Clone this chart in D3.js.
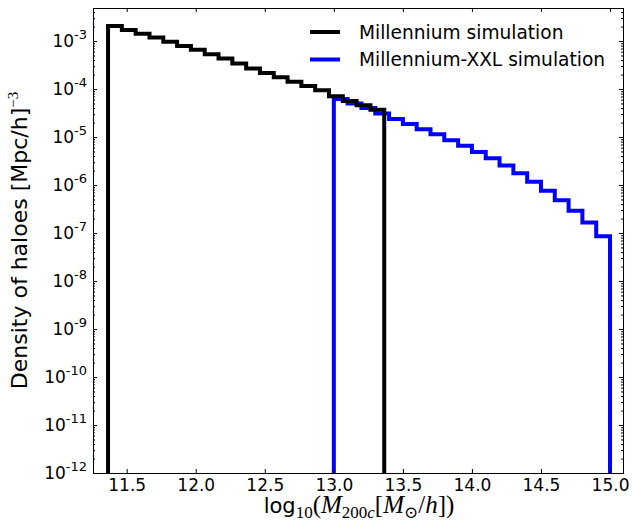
<!DOCTYPE html>
<html>
<head>
<meta charset="utf-8">
<script src="https://cdn.jsdelivr.net/npm/d3@7"></script>
<style>
  body { margin: 0; background: #fff; }
  text { font-family: "DejaVu Sans", sans-serif; fill: #000; }
  .math { font-family: "Liberation Serif", "DejaVu Serif", serif; }
</style>
</head>
<body>
<div id="chart"></div>
<script>
// histogram bin edges (log10 mass) and densities
var millEdges = [11.365, 11.465, 11.565, 11.665, 11.765, 11.865, 11.965, 12.065, 12.165, 12.265, 12.365,
                 12.465, 12.565, 12.665, 12.765, 12.865, 12.965, 13.065, 13.165, 13.265, 13.365];
var millDensity = [2.06e-3, 1.69e-3, 1.42e-3, 1.19e-3, 9.7e-4, 7.9e-4, 6.6e-4, 5.3e-4, 4.3e-4, 3.4e-4,
                   2.67e-4, 2.15e-4, 1.75e-4, 1.42e-4, 1.15e-4, 9.4e-5, 7.1e-5, 5.6e-5, 4.6e-5, 3.7e-5];

var xxlEdges = [13.0, 13.1, 13.2, 13.3, 13.4, 13.5, 13.6, 13.7, 13.8, 13.9, 14.0,
                14.1, 14.2, 14.3, 14.4, 14.5, 14.6, 14.7, 14.8, 14.9, 15.0];
var xxlDensity = [6.2e-5, 5.0e-5, 4.0e-5, 3.1e-5, 2.37e-5, 1.86e-5, 1.46e-5, 1.14e-5, 8.6e-6, 6.6e-6,
                  4.9e-6, 3.6e-6, 2.56e-6, 1.75e-6, 1.17e-6, 7.6e-7, 4.8e-7, 2.9e-7, 1.66e-7, 8.6e-8];

var xTicks = [11.5, 12.0, 12.5, 13.0, 13.5, 14.0, 14.5, 15.0];
var yExponents = [-3, -4, -5, -6, -7, -8, -9, -10, -11, -12];
var legendLabels = ["Millennium simulation", "Millennium-XXL simulation"];

var svgWidth = 632;
var svgHeight = 522;
var margin = { top: 8, right: 9, bottom: 49, left: 93 };
var width = svgWidth - margin.left - margin.right;
var height = svgHeight - margin.top - margin.bottom;

var svg = d3.select("#chart")
  .append("svg")
  .attr("width", svgWidth)
  .attr("height", svgHeight);

var chartGroup = svg.append("g")
  .attr("transform", `translate(${margin.left}, ${margin.top})`);

var xScale = d3.scaleLinear()
  .domain([11.256, 15.094])
  .range([0, width]);

var yScale = d3.scaleLog()
  .domain([1e-12, Math.pow(10, -2.312)])
  .range([height, 0]);

chartGroup.append("clipPath")
  .attr("id", "plotclip")
  .append("rect")
  .attr("width", width)
  .attr("height", height);

// step outline like matplotlib histtype='step'
function stepPath(edges, vals) {
  var p = d3.path();
  p.moveTo(xScale(edges[0]), height);
  vals.forEach((v, i) => {
    p.lineTo(xScale(edges[i]), yScale(v));
    p.lineTo(xScale(edges[i + 1]), yScale(v));
  });
  p.lineTo(xScale(edges[edges.length - 1]), height);
  return p.toString();
}

var lines = chartGroup.append("g").attr("clip-path", "url(#plotclip)");

lines.append("path")
  .attr("d", stepPath(xxlEdges, xxlDensity))
  .attr("fill", "none")
  .attr("stroke", "#0000ff")
  .attr("stroke-width", 4)
  .attr("stroke-linejoin", "miter");

lines.append("path")
  .attr("d", stepPath(millEdges, millDensity))
  .attr("fill", "none")
  .attr("stroke", "#000")
  .attr("stroke-width", 4)
  .attr("stroke-linejoin", "miter");

// axes: ticks point inward on all four sides
var bottomAxis = d3.axisBottom(xScale).tickValues(xTicks).tickFormat(d3.format(".1f"))
  .tickSizeInner(-4).tickSizeOuter(0).tickPadding(6);
var topAxis = d3.axisTop(xScale).tickValues(xTicks).tickFormat("").tickSizeInner(-4).tickSizeOuter(0);

var majorY = yExponents.map(e => Math.pow(10, e));
var minorY = [];
yExponents.forEach(e => {
  for (var k = 2; k <= 9; k++) minorY.push(k * Math.pow(10, e));
});
minorY = minorY.filter(v => v <= yScale.domain()[1]);

var leftAxis = d3.axisLeft(yScale).tickValues(majorY).tickFormat("").tickSizeInner(-4).tickSizeOuter(0);
var rightAxis = d3.axisRight(yScale).tickValues(majorY).tickFormat("").tickSizeInner(-4).tickSizeOuter(0);
var leftMinor = d3.axisLeft(yScale).tickValues(minorY).tickFormat("").tickSizeInner(-2).tickSizeOuter(0);
var rightMinor = d3.axisRight(yScale).tickValues(minorY).tickFormat("").tickSizeInner(-2).tickSizeOuter(0);

var gx = chartGroup.append("g").attr("transform", `translate(0, ${height})`).call(bottomAxis);
chartGroup.append("g").call(topAxis);
var gy = chartGroup.append("g").call(leftAxis);
chartGroup.append("g").call(leftMinor);
chartGroup.append("g").attr("transform", `translate(${width}, 0)`).call(rightAxis);
chartGroup.append("g").attr("transform", `translate(${width}, 0)`).call(rightMinor);

chartGroup.selectAll(".domain").remove();
chartGroup.selectAll(".tick line").attr("stroke", "#000");

gx.selectAll("text")
  .style("font-family", "DejaVu Sans")
  .style("font-size", "17px");

// y tick labels 10^n
gy.selectAll(".tick").each(function (d) {
  var t = d3.select(this).append("text")
    .attr("x", -6)
    .attr("dy", "0.32em")
    .attr("text-anchor", "end")
    .style("font-size", "17px");
  t.append("tspan").text("10");
  t.append("tspan").attr("dy", "-0.6em").style("font-size", "13px")
    .text(Math.round(Math.log10(d)));
});

// frame
chartGroup.append("rect")
  .attr("x", 0.5).attr("y", 0.5)
  .attr("width", width).attr("height", height)
  .attr("fill", "none")
  .attr("stroke", "#000")
  .attr("stroke-width", 1);

// legend
var legendColors = ["#000", "#0000ff"];
var legend = chartGroup.append("g")
  .attr("transform", `translate(${310 - margin.left}, ${32 - margin.top})`);
legendLabels.forEach((lab, i) => {
  legend.append("line")
    .attr("x1", 0).attr("x2", 30)
    .attr("y1", i * 27.5).attr("y2", i * 27.5)
    .attr("stroke", legendColors[i])
    .attr("stroke-width", 4);
  legend.append("text")
    .attr("x", 49)
    .attr("y", i * 27.5)
    .attr("dy", "0.36em")
    .style("font-size", "18.6px")
    .text(lab);
});

// axis labels
var yLabel = svg.append("text")
  .attr("transform", `translate(27, ${margin.top + height / 2}) rotate(-90)`)
  .attr("text-anchor", "middle")
  .style("font-size", "22px");
yLabel.append("tspan").text("Density of haloes [Mpc/h]");
yLabel.append("tspan").attr("class", "math").attr("dy", "-0.6em").style("font-size", "15px").text("\u22123");

var xLabel = svg.append("text")
  .attr("x", 359)
  .attr("y", 513)
  .attr("text-anchor", "middle")
  .style("font-size", "21px");
xLabel.append("tspan").text("log");
xLabel.append("tspan").attr("class", "math").attr("dy", 5).style("font-size", "17px").text("10");
xLabel.append("tspan").attr("class", "math").attr("dy", -5).style("font-size", "25px").text("(");
xLabel.append("tspan").attr("class", "math").style("font-size", "25px").style("font-style", "italic").text("M");
xLabel.append("tspan").attr("class", "math").attr("dy", 5).style("font-size", "17px").text("200");
xLabel.append("tspan").attr("class", "math").style("font-size", "17px").style("font-style", "italic").text("c");
xLabel.append("tspan").attr("class", "math").attr("dy", -5).style("font-size", "25px").text("[");
xLabel.append("tspan").attr("class", "math").style("font-size", "25px").style("font-style", "italic").text("M");
xLabel.append("tspan").attr("class", "math").attr("dy", 5).style("font-size", "17px").text("\u2299");
xLabel.append("tspan").attr("class", "math").attr("dy", -5).style("font-size", "25px").text("/");
xLabel.append("tspan").attr("class", "math").style("font-size", "25px").style("font-style", "italic").text("h");
xLabel.append("tspan").attr("class", "math").style("font-size", "25px").text("])");
</script>
</body>
</html>
